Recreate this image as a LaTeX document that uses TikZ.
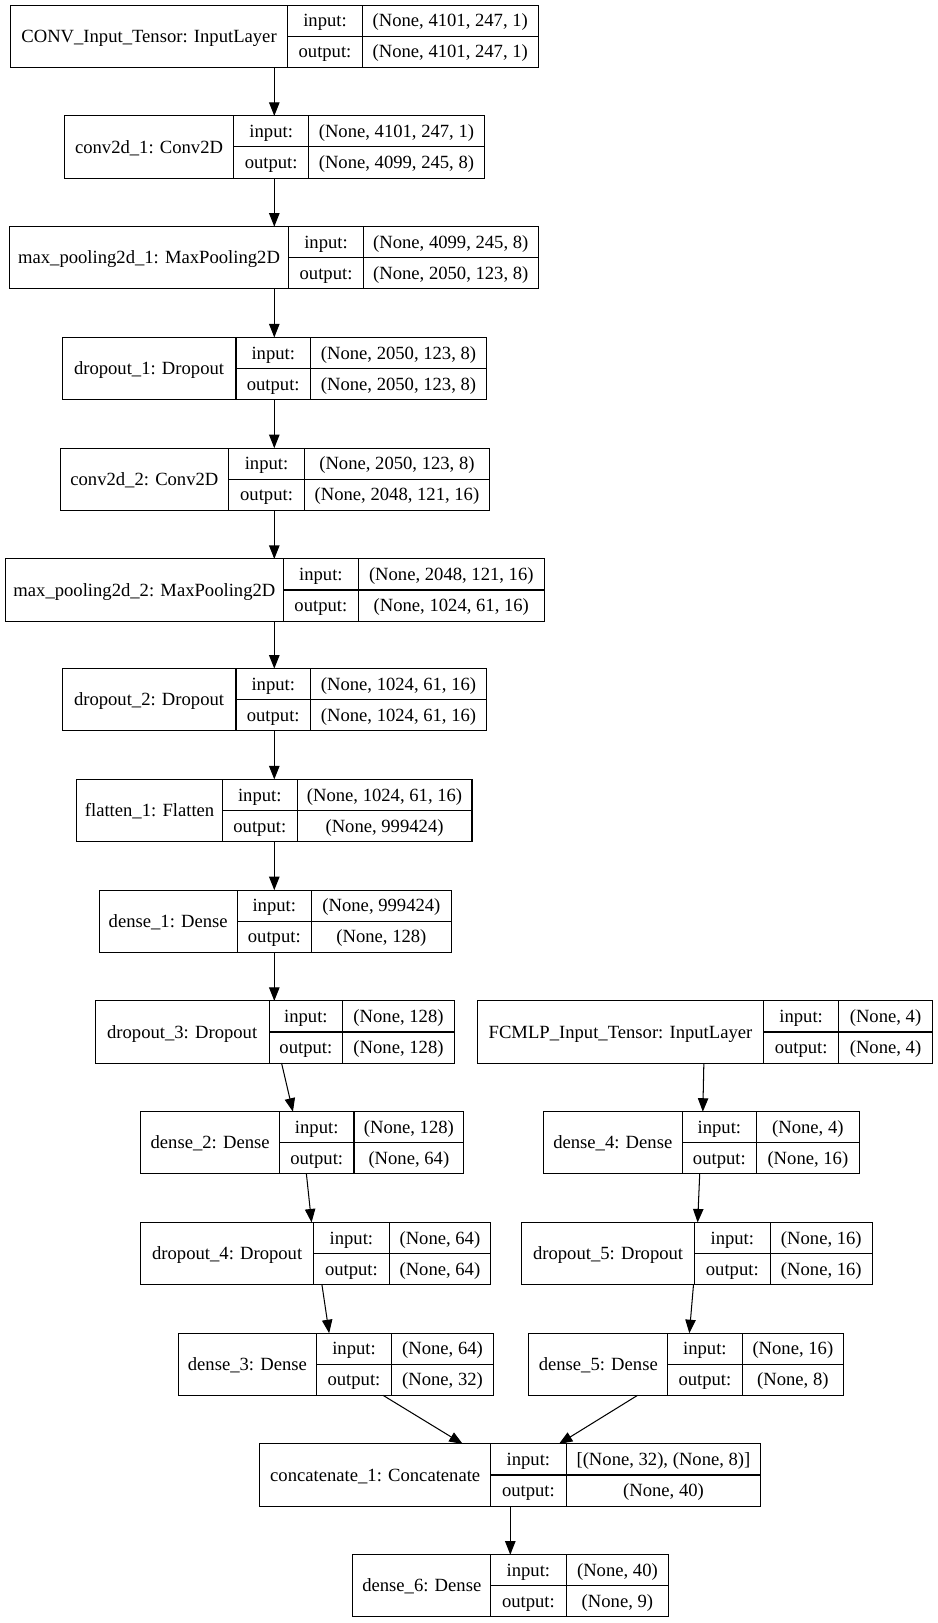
\documentclass[tikz,border=0pt]{standalone}
\usepackage{fontspec}
\setmainfont{Liberation Serif}
\usetikzlibrary{arrows.meta}

% One Keras layer record: name | input:/output: | shapes
% #1 node name, #2 left, #3 first divider, #4 second divider, #5 right,
% #6 top, #7 layer label, #8 input shape, #9 output shape
\newcommand\kerasrec[9]{%
  \node[recbox, minimum width={#5-#2}, anchor=north west] (#1) at (#2,#6) {};
  \draw[recline] (#3,#6) -- (#3,#6+60) (#4,#6) -- (#4,#6+60) (#3,#6+30) -- (#5,#6+30);
  \node[rectxt] (#1-label) at ({(#2+#3)/2},#6+36) {#7};
  \node[rectxt] (#1-in)    at ({(#3+#4)/2},#6+21) {input:};
  \node[rectxt] (#1-out)   at ({(#3+#4)/2},#6+51) {output:};
  \node[rectxt] (#1-ins)   at ({(#4+#5)/2},#6+21) {#8};
  \node[rectxt] (#1-outs)  at ({(#4+#5)/2},#6+51) {#9};
}

\begin{document}
\begin{tikzpicture}[x=1pt, y=-1pt,
  recbox/.style={draw=black, line width=1pt, fill=white, inner sep=0pt,
    outer sep=0pt, minimum height=60pt},
  recline/.style={draw=black, line width=1pt},
  rectxt/.style={anchor=base, inner sep=0pt, font=\fontsize{18}{21}\selectfont},
  flow/.style={draw=black, line width=1pt, -{Triangle[length=13pt, width=10pt]}}]

\fill[white] (0,0) rectangle (906,1568);
\useasboundingbox (0,0) rectangle (906,1568);

% convolutional branch
\kerasrec{in1}{10}{278}{350}{520}{5}{CONV\_Input\_Tensor: InputLayer}{(None, 4101, 247, 1)}{(None, 4101, 247, 1)}
\kerasrec{conv1}{62}{226}{298}{468}{112}{conv2d\_1: Conv2D}{(None, 4101, 247, 1)}{(None, 4099, 245, 8)}
\kerasrec{pool1}{9}{279}{351}{520}{219}{max\_pooling2d\_1: MaxPooling2D}{(None, 4099, 245, 8)}{(None, 2050, 123, 8)}
\kerasrec{drop1}{60}{228}{300}{470}{326}{dropout\_1: Dropout}{(None, 2050, 123, 8)}{(None, 2050, 123, 8)}
\kerasrec{conv2}{58}{221}{294}{473}{433}{conv2d\_2: Conv2D}{(None, 2050, 123, 8)}{(None, 2048, 121, 16)}
\kerasrec{pool2}{5}{274}{346}{526}{540}{max\_pooling2d\_2: MaxPooling2D}{(None, 2048, 121, 16)}{(None, 1024, 61, 16)}
\kerasrec{drop2}{60}{228}{300}{470}{646}{dropout\_2: Dropout}{(None, 1024, 61, 16)}{(None, 1024, 61, 16)}
\kerasrec{flat}{74}{215}{287}{456}{753}{flatten\_1: Flatten}{(None, 1024, 61, 16)}{(None, 999424)}
\kerasrec{dense1}{96}{229}{301}{436}{860}{dense\_1: Dense}{(None, 999424)}{(None, 128)}
\kerasrec{drop3}{92}{260}{331}{439}{967}{dropout\_3: Dropout}{(None, 128)}{(None, 128)}
\kerasrec{dense2}{136}{270}{342}{448}{1074}{dense\_2: Dense}{(None, 128)}{(None, 64)}
\kerasrec{drop4}{136}{303}{376}{474}{1181}{dropout\_4: Dropout}{(None, 64)}{(None, 64)}
\kerasrec{dense3}{172}{306}{378}{477}{1288}{dense\_3: Dense}{(None, 64)}{(None, 32)}

% fully connected branch
\kerasrec{fcin}{461}{738}{810}{901}{967}{FCMLP\_Input\_Tensor: InputLayer}{(None, 4)}{(None, 4)}
\kerasrec{dense4}{525}{659}{731}{830}{1074}{dense\_4: Dense}{(None, 4)}{(None, 16)}
\kerasrec{drop5}{504}{671}{744}{843}{1181}{dropout\_5: Dropout}{(None, 16)}{(None, 16)}
\kerasrec{dense5}{511}{645}{717}{815}{1288}{dense\_5: Dense}{(None, 16)}{(None, 8)}

% merge and output
\kerasrec{concat}{251}{474}{547}{735}{1395}{concatenate\_1: Concatenate}{[(None, 32), (None, 8)]}{(None, 40)}
\kerasrec{dense6}{341}{474}{547}{646}{1502}{dense\_6: Dense}{(None, 40)}{(None, 9)}

% straight chain of the convolutional branch
\foreach \a/\b in {in1/conv1, conv1/pool1, pool1/drop1, drop1/conv2, conv2/pool2,
                   pool2/drop2, drop2/flat, flat/dense1, dense1/drop3}
  \draw[flow] (\a.south -| 265,0) -- (\b.north -| 265,0);

% slanted edges (offsets measured from each box's left edge)
\draw[flow] ([xshift=180pt]drop3.south west) -- ([xshift=147pt]dense2.north west);
\draw[flow] ([xshift=160pt]dense2.south west) -- ([xshift=165pt]drop4.north west);
\draw[flow] ([xshift=175pt]drop4.south west) -- ([xshift=146pt]dense3.north west);
\draw[flow] ([xshift=219pt]fcin.south west) -- ([xshift=154pt]dense4.north west);
\draw[flow] ([xshift=151pt]dense4.south west) -- ([xshift=170pt]drop5.north west);
\draw[flow] ([xshift=166pt]drop5.south west) -- ([xshift=155pt]dense5.north west);
\draw[flow] ([xshift=198pt]dense3.south west) -- ([xshift=196pt]concat.north west);
\draw[flow] ([xshift=105pt]dense5.south west) -- ([xshift=289pt]concat.north west);
\draw[flow] ([xshift=242pt]concat.south west) -- ([xshift=152pt]dense6.north west);

\end{tikzpicture}
\end{document}
